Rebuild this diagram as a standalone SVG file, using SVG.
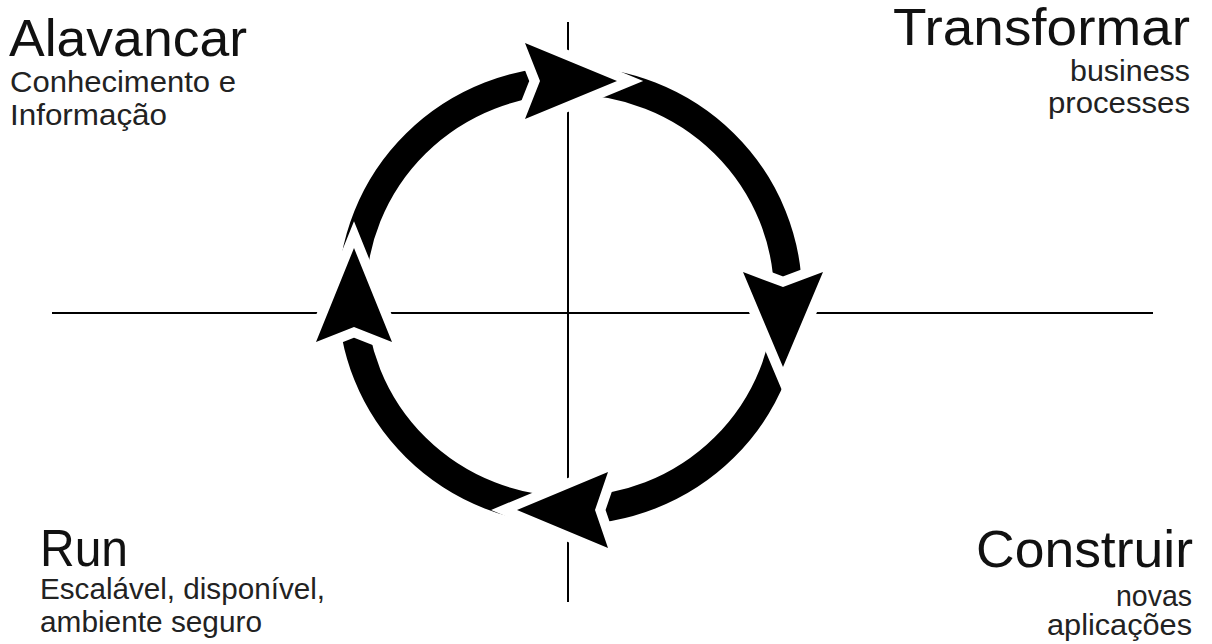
<svg xmlns="http://www.w3.org/2000/svg" width="1212" height="644" viewBox="0 0 1212 644">
<style>
.axis{stroke:#000;stroke-width:2;fill:none}
.ring{fill:none;stroke:#000;stroke-width:28}
.head{fill:#000;stroke:#fff;stroke-width:20;stroke-linejoin:miter;stroke-miterlimit:10;paint-order:stroke}
.title{font-family:"Liberation Sans",Arial,sans-serif;font-size:52px;fill:#111}
.sub{font-family:"Liberation Sans",Arial,sans-serif;font-size:29px;fill:#222}
.end{text-anchor:end}
</style>
<rect width="1212" height="644" fill="#fff"/>
<g id="connectors">
  <line class="axis" x1="52" y1="313" x2="1153" y2="313"/>
  <line class="axis" x1="568" y1="22" x2="568" y2="602"/>
  <ellipse class="ring" cx="570" cy="295.5" rx="218" ry="215"/>
  <polygon class="head" points="525,43 617,81 525,119 540,81"/>
  <polygon class="head" points="743,272 783,287 823,272 783,367"/>
  <polygon class="head" points="608,472 595,510 608,548 517,510"/>
  <polygon class="head" points="316,342 354,327 392,342 354,248"/>
</g>
<g id="alavancar">
  <text class="title" x="9" y="56" textLength="238" lengthAdjust="spacingAndGlyphs">Alavancar</text>
  <text class="sub" x="10" y="92" textLength="226" lengthAdjust="spacingAndGlyphs">Conhecimento e</text>
  <text class="sub" x="10" y="125" textLength="157" lengthAdjust="spacingAndGlyphs">Informação</text>
</g>
<g id="transformar">
  <text class="title end" x="1190" y="45" textLength="297" lengthAdjust="spacingAndGlyphs">Transformar</text>
  <text class="sub end" x="1190" y="81" textLength="120" lengthAdjust="spacingAndGlyphs">business</text>
  <text class="sub end" x="1190" y="113" textLength="142" lengthAdjust="spacingAndGlyphs">processes</text>
</g>
<g id="run">
  <text class="title" x="40" y="566" textLength="88" lengthAdjust="spacingAndGlyphs">Run</text>
  <text class="sub" x="40" y="599" textLength="285" lengthAdjust="spacingAndGlyphs">Escalável, disponível,</text>
  <text class="sub" x="40" y="632" textLength="222" lengthAdjust="spacingAndGlyphs">ambiente seguro</text>
</g>
<g id="construir">
  <text class="title end" x="1193" y="567" textLength="217" lengthAdjust="spacingAndGlyphs">Construir</text>
  <text class="sub end" x="1192" y="606" textLength="76" lengthAdjust="spacingAndGlyphs">novas</text>
  <text class="sub end" x="1192" y="635" textLength="145" lengthAdjust="spacingAndGlyphs">aplicações</text>
</g>
</svg>
